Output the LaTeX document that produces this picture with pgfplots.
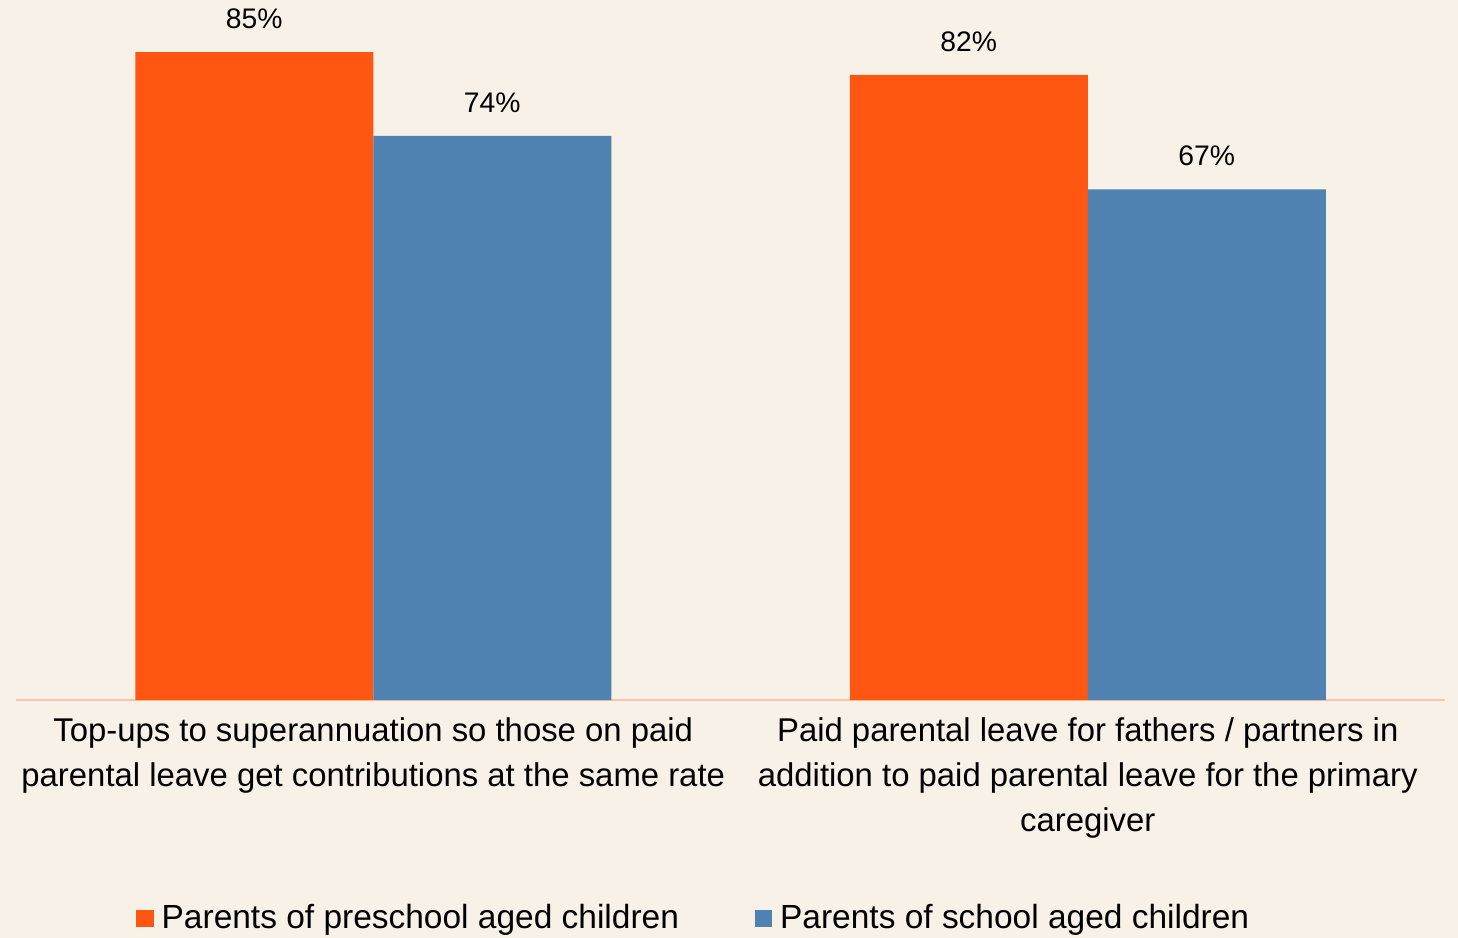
\documentclass[border=0pt]{standalone}
\usepackage{pgfplots}
\pgfplotsset{compat=1.18}
\usepackage{fontspec}
\setmainfont{Liberation Sans}
\definecolor{bg}{HTML}{F8F1E7}
\definecolor{orng}{HTML}{FF5611}
\definecolor{blu}{HTML}{4F81B1}
\definecolor{axcol}{HTML}{F9C4A8}
\begin{document}
\begin{tikzpicture}
\fill[bg] (-8bp,-119bp) rectangle (721bp,350bp);
\begin{axis}[
    scale only axis,
    width=714.5bp, height=343bp,
    ybar=0pt, bar width=119bp,
    ymin=0, ymax=90,
    xmin=-0.5, xmax=1.5,
    xtick={0,1},
    xticklabels={{Top-ups to superannuation so those on paid\\parental leave get contributions at the same rate},
                 {Paid parental leave for fathers / partners in\\addition to paid parental leave for the primary\\caregiver}},
    x tick label style={align=center, font=\fontsize{16.5}{22.5}\selectfont, text depth=0pt, yshift=-1bp},
    major x tick style={draw=none},
    axis y line=none,
    axis x line*=bottom,
    x axis line style={draw=axcol, line width=1.1pt, -},
    ytick=\empty,
    clip=false,
    /pgf/number format/assume math mode=true,
    nodes near coords={\pgfmathprintnumber{\pgfplotspointmeta}\%},
    nodes near coords style={font=\fontsize{14.2}{16}\selectfont, black, yshift=8bp},
    legend style={at={(0.475,-0.318)}, anchor=center, draw=none, fill=none,
        legend columns=2, font=\fontsize{16.8}{18}\selectfont,
        /tikz/every odd column/.append style={column sep=2bp},
        /tikz/every even column/.append style={column sep=36bp}},
    legend image code/.code={\fill[#1] (0bp,-4.6bp) rectangle (8.6bp,4bp);},
]
\addplot[fill=orng, draw=none] coordinates {(0,85) (1,82)};
\addplot[fill=blu, draw=none] coordinates {(0,74) (1,67)};
\legend{Parents of preschool aged children, Parents of school aged children}
\end{axis}
\pgfresetboundingbox
\path (-8bp,-119bp) rectangle (721bp,350bp);
\end{tikzpicture}
\end{document}
